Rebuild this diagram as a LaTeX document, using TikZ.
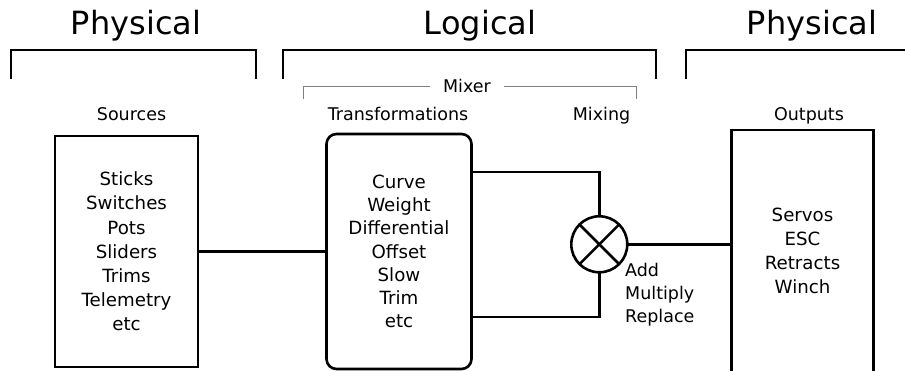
\documentclass[tikz,border=0pt]{standalone}
\usepackage{fontspec}
\setmainfont{DejaVu Sans}
\usetikzlibrary{positioning}

\tikzset{
  blockbox/.style={draw, line width=2.6pt, align=center, inner sep=0pt, outer sep=0pt},
  wire/.style={line width=2.6pt},
  heading/.style={anchor=base, font=\fontsize{32}{38}\selectfont},
  caption/.style={anchor=base, font=\fontsize{17.5}{21}\selectfont},
}

\begin{document}
\begin{tikzpicture}[x=1pt,y=-1pt]
    \useasboundingbox (0,0) rectangle (905,371);
    \clip (0,0) rectangle (905,371);
    % Headings
    \node[heading] (physin) at (136,35) {Physical};
    \node[heading] (logical) at (480,35) {Logical};
    \node[heading] (physout) at (812,35) {Physical};
    \draw[wire] (11,79) -- (11,50) -- (256,50) -- (256,79);
    \draw[wire] (283,79) -- (283,50) -- (656,50) -- (656,79);
    \draw[wire] (686,79) -- (686,50) -- (912,50);
    % Mixer span
    \node[caption, inner xsep=13pt] (mixer) at (467,93) {Mixer};
    \draw[gray, line width=1pt] (303,99) -- (303,87) -- (mixer.west |- 0,87);
    \draw[gray, line width=1pt] (mixer.east |- 0,87) -- (636,87) -- (636,99);
    \node[caption] (srclabel) at (131.5,121) {Sources};
    \node[caption] (translabel) at (398,121) {Transformations};
    \node[caption] (mixlabel) at (601.5,121) {Mixing};
    \node[caption] (outlabel) at (809,121) {Outputs};
    % Blocks
    \node[blockbox, font=\fontsize{18.2}{24.2}\selectfont, minimum width=143pt, minimum height=231pt] (sources) at (126.5,251.5)
        {Sticks\\Switches\\Pots\\Sliders\\Trims\\Telemetry\\etc};
    \node[blockbox, font=\fontsize{18.2}{23.2}\selectfont, rounded corners=10pt, minimum width=145pt, minimum height=235pt] (trans) at (399,251.5)
        {Curve\\Weight\\Differential\\Offset\\Slow\\Trim\\etc};
    \node[blockbox, font=\fontsize{18.2}{24.2}\selectfont, minimum width=141.5pt, minimum height=242pt] (outputs) at (802.5,251)
        {Servos\\ESC\\Retracts\\Winch};
    \node[draw, circle, line width=2.6pt, minimum size=56pt, inner sep=0pt, outer sep=0pt] (mix) at (599.3,244.3) {};
    \draw[wire] (mix.north west) -- (mix.south east);
    \draw[wire] (mix.north east) -- (mix.south west);
    \node[anchor=north west, align=left, inner sep=0pt, font=\fontsize{17.5}{23.2}\selectfont] (ops) at (625,263)
        {Add\\Multiply\\Replace};
    % Connections
    \draw[wire] (sources.east) -- (trans.west);
    \draw[wire] ([yshift=-38pt]trans.north east) -| (mix.north);
    \draw[wire] ([yshift=52pt]trans.south east) -| (mix.south);
    \draw[wire] (mix.east) -- (mix.east -| outputs.west);
\end{tikzpicture}
\end{document}
